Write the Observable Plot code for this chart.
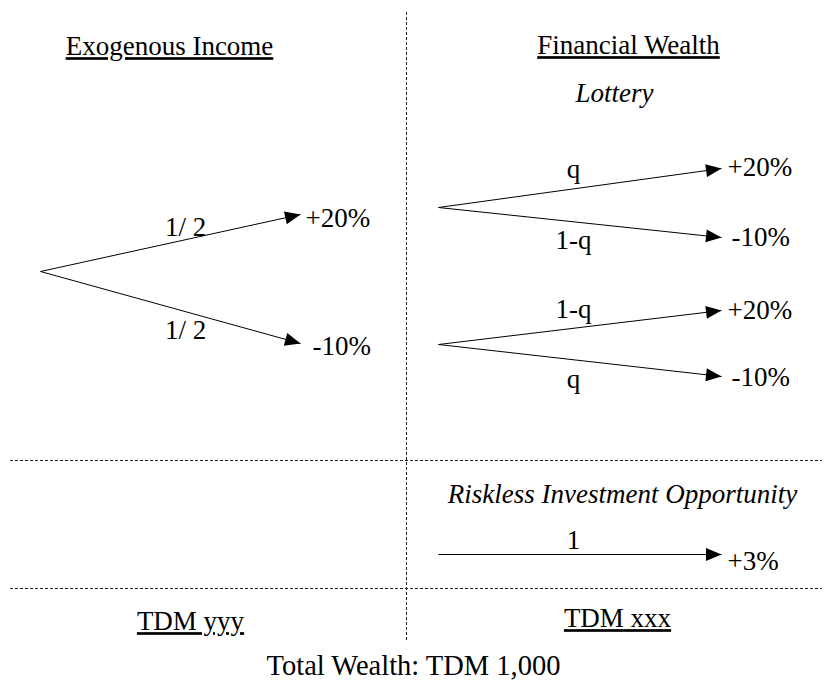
<!DOCTYPE html>
<html>
<head>
<meta charset="utf-8">
<script src="https://cdn.jsdelivr.net/npm/d3@7"></script>
<script src="https://cdn.jsdelivr.net/npm/@observablehq/plot@0.6"></script>
<style>
  html, body { margin: 0; padding: 0; background: #fff; }
  #chart svg text { font-family: "Liberation Serif", "Times New Roman", serif; }
</style>
</head>
<body>
<div id="chart"></div>
<script>
// ---------- data ----------
const sectionTitles = ["Exogenous Income", "Financial Wealth"];
const lotteryTitle = "Lottery";
const risklessTitle = "Riskless Investment Opportunity";
const incomeOutcomes = ["+20%", "-10%"];
const incomeProbs = ["1/ 2", "1/ 2"];
const lotteryOutcomes = ["+20%", "-10%"];
const lotteryProbs = [["q", "1-q"], ["1-q", "q"]];
const risklessOutcome = "+3%";
const risklessProb = "1";
const amounts = ["TDM yyy", "TDM xxx"];
const totalLabel = "Total Wealth: TDM 1,000";
const underlined = [...sectionTitles, ...amounts];

// ---------- layout (diagram coordinate system) ----------
const W = 824, H = 688;
const L = {
  divX: 406, divTop: 12, divBottom: 640,
  hLines: [460, 588], hLeft: 10, hRight: 822,
  titleY: [46, 45], titleX: [169, 628],
  lotteryX: 614, lotteryY: 93,
  inc: {x0: 40, y0: 271, x1: 300, ys: [214, 343], labelX: 185, labelY: [227, 330], outX: [305, 312], outY: [218, 346]},
  lot: {x0: 438, y0s: [207, 344], x1: 721, dy: [[-39, 30], [-34, 32]], labelX: 573,
        labelY: [[169, 240], [309, 379]], outX: [727, 731], outDY: [[-40, 30], [-34, 33]]},
  risk: {titleX: 622, titleY: 494, x0: 438, x1: 721, y: 554, labelY: 540, outX: 727, outY: 561},
  amtX: [190, 617], amtY: [621, 618],
  totalX: 413, totalY: 665
};

// build branches
const branches = [];
incomeOutcomes.forEach((o, i) => branches.push({x1: L.inc.x0, y1: L.inc.y0, x2: L.inc.x1, y2: L.inc.ys[i]}));
lotteryProbs.forEach((pair, t) => lotteryOutcomes.forEach((o, i) =>
  branches.push({x1: L.lot.x0, y1: L.lot.y0s[t], x2: L.lot.x1, y2: L.lot.y0s[t] + L.lot.dy[t][i]})));
branches.push({x1: L.risk.x0, y1: L.risk.y, x2: L.risk.x1, y2: L.risk.y});

const labels = []; // {text, x, y, anchor, style, size}
sectionTitles.forEach((t, i) => labels.push({text: t, x: L.titleX[i], y: L.titleY[i], anchor: "middle", style: "normal"}));
labels.push({text: lotteryTitle, x: L.lotteryX, y: L.lotteryY, anchor: "middle", style: "italic"});
incomeOutcomes.forEach((o, i) => {
  labels.push({text: incomeProbs[i], x: L.inc.labelX, y: L.inc.labelY[i], anchor: "middle", style: "normal"});
  labels.push({text: o, x: L.inc.outX[i], y: L.inc.outY[i], anchor: "start", style: "normal"});
});
lotteryProbs.forEach((pair, t) => lotteryOutcomes.forEach((o, i) => {
  labels.push({text: pair[i], x: L.lot.labelX, y: L.lot.labelY[t][i], anchor: "middle", style: "normal"});
  labels.push({text: o, x: L.lot.outX[i], y: L.lot.y0s[t] + L.lot.outDY[t][i], anchor: "start", style: "normal"});
}));
labels.push({text: risklessTitle, x: L.risk.titleX, y: L.risk.titleY, anchor: "middle", style: "italic"});
labels.push({text: risklessProb, x: L.lot.labelX, y: L.risk.labelY, anchor: "middle", style: "normal"});
labels.push({text: risklessOutcome, x: L.risk.outX, y: L.risk.outY, anchor: "start", style: "normal"});
amounts.forEach((a, i) => labels.push({text: a, x: L.amtX[i], y: L.amtY[i], anchor: "middle", style: "normal"}));
labels.push({text: totalLabel, x: L.totalX, y: L.totalY, anchor: "middle", style: "normal", size: 28.5});

const arrowHead = {
  draw(ctx) {
    ctx.moveTo(0, 0);
    ctx.lineTo(-15.5, -6.5);
    ctx.lineTo(-15.5, 6.5);
    ctx.closePath();
  }
};

const textMarks = ["start", "middle"].flatMap(anchor => ["normal", "italic"].map(style =>
  Plot.text(labels.filter(d => d.anchor === anchor && d.style === style), {
    x: "x", y: "y", text: "text", textAnchor: anchor, fontSize: d => d.size ?? 27, fontStyle: style,
    fontFamily: "Liberation Serif", fill: "#000"
  })));

const plot = Plot.plot({
  width: W, height: H,
  margin: 0,
  x: {domain: [0, W], range: [0, W], axis: null},
  y: {domain: [0, H], range: [0, H], axis: null},
  marks: [
    Plot.ruleX([L.divX], {y1: L.divTop, y2: L.divBottom, stroke: "#222", strokeWidth: 1, strokeDasharray: "3,2"}),
    Plot.ruleY(L.hLines, {x1: L.hLeft, x2: L.hRight, stroke: "#222", strokeWidth: 1, strokeDasharray: "3,2"}),
    Plot.link(branches, {x1: "x1", y1: "y1", x2: "x2", y2: "y2", stroke: "#000", strokeWidth: 1}),
    Plot.dot(branches, {x: "x2", y: "y2", r: 6, symbol: arrowHead, fill: "#000", stroke: "none",
      rotate: d => Math.atan2(d.y2 - d.y1, d.x2 - d.x1) * 180 / Math.PI}),
    ...textMarks
  ]
});
d3.select(plot).selectAll("text").filter(function() { return underlined.includes(this.textContent); })
  .style("text-decoration", "underline");
document.getElementById("chart").appendChild(plot);
</script>
</body>
</html>
